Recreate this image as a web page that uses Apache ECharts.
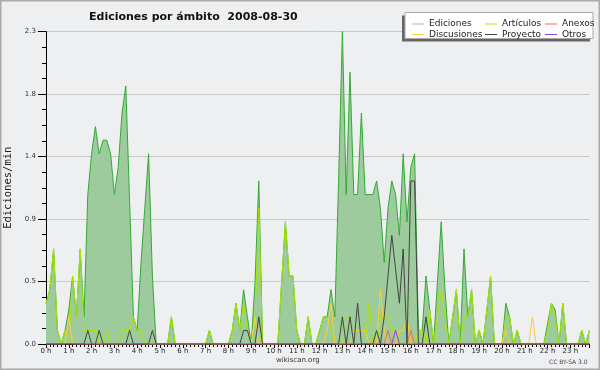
<!DOCTYPE html>
<html>
<head>
<meta charset="utf-8">
<script src="https://cdn.jsdelivr.net/npm/echarts@6/dist/echarts.min.js"></script>
<style>
html,body{margin:0;padding:0;background:#eeeff1;}
#chart{width:600px;height:370px;}
</style>
</head>
<body>
<div id="chart"></div>
<script>
// 10-minute bins, 144 per day (6 per hour)
const hourLabels = ['0 h','1 h','2 h','3 h','4 h','5 h','6 h','7 h','8 h','9 h','10 h','11 h','12 h','13 h','14 h','15 h','16 h','17 h','18 h','19 h','20 h','21 h','22 h','23 h'];
const yTicks = [0, 0.46, 0.92, 1.38, 1.84, 2.3];

const ediciones = [
  0.3,0.4,0.7,0.1,0,0.1,
  0.25,0.5,0.2,0.7,0.2,1.1,
  1.4,1.6,1.4,1.5,1.5,1.4,
  1.1,1.3,1.7,1.9,1.05,0.2,
  0.1,0.6,1.0,1.4,0.5,0,
  0,0,0,0.2,0,0,
  0,0,0,0,0,0,
  0,0.1,0,0,0,0,
  0,0.1,0.3,0.1,0.4,0.2,
  0,0.45,1.2,0,0,0,
  0,0,0.45,0.9,0.5,0.5,
  0.1,0,0,0.2,0,0,
  0.1,0.2,0.2,0.4,0.2,1.2,
  2.3,1.1,2.0,1.1,1.1,1.7,
  1.1,1.1,1.1,1.2,1.0,0.6,
  1.0,1.2,1.1,0.8,1.4,0.9,
  1.3,1.4,0.1,0.1,0.5,0.25,
  0,0.45,0.9,0.4,0,0.2,
  0.4,0,0.7,0.2,0.4,0,
  0.1,0,0.25,0.5,0,0,
  0,0.3,0.2,0,0.1,0,
  0,0,0,0,0,0,
  0.15,0.3,0.25,0,0.3,0,
  0,0,0,0.1,0,0.1
];
const articulos = [
  0.3,0.4,0.7,0.1,0,0.1,
  0,0.5,0.2,0.7,0.1,0.1,
  0.1,0.1,0,0,0.1,0,
  0,0,0.1,0.1,0.1,0.2,
  0.1,0.1,0,0,0,0,
  0,0,0,0.2,0,0,
  0,0,0,0,0,0,
  0,0.1,0,0,0,0,
  0,0.1,0.3,0.1,0.3,0.1,
  0,0.2,1.0,0,0,0,
  0,0,0.45,0.9,0.5,0.5,
  0.1,0,0,0.2,0,0,
  0.1,0.2,0.2,0.1,0,0,
  0,0.2,0.2,0,0,0,
  0,0.3,0,0,0.2,0.2,
  0.2,0.1,0.1,0,0,0,
  0,0,0.1,0.1,0,0.25,
  0,0.2,0.4,0.2,0,0.2,
  0.4,0,0.2,0.2,0.4,0,
  0.1,0,0.25,0.5,0,0,
  0,0.2,0.2,0,0.1,0,
  0,0,0,0,0,0,
  0.1,0.3,0.2,0,0.3,0,
  0,0,0,0.1,0,0.1
];
const anexos = [
  0,0,0,0,0,0, 0,0,0,0,0,0, 0,0,0,0,0,0, 0,0,0,0,0,0,
  0,0,0,0,0,0, 0,0,0,0,0,0, 0,0,0,0,0,0, 0,0,0,0,0,0,
  0,0,0,0,0,0, 0,0,0,0,0,0, 0,0,0,0,0,0, 0,0,0,0,0,0,
  0,0,0,0,0,0, 0,0,0,0,0,0, 0,0,0,0,0,0, 0.1,0,0,0,0,0,
  0.1,0,0,0,0,0, 0,0,0,0,0,0, 0,0,0,0,0,0, 0,0,0,0,0,0,
  0,0,0,0,0,0, 0,0,0,0,0,0, 0,0,0,0,0,0, 0,0,0,0,0,0
];
const discusiones = [
  0,0,0,0,0,0, 0.2,0,0,0,0,0, 0,0,0,0,0,0, 0,0,0,0,0,0,
  0,0,0,0,0,0, 0,0,0,0,0,0, 0,0,0,0,0,0, 0,0,0,0,0,0,
  0,0,0,0,0,0, 0,0.2,0,0,0,0, 0,0,0,0,0,0, 0,0,0,0,0,0,
  0,0,0.1,0.3,0,0, 0,0,0,0.1,0.1,0.1, 0.1,0,0,0,0.4,0.1, 0,0,0,0.1,0.1,0.2,
  0,0,0,0,0,0, 0,0,0,0,0,0, 0,0,0,0,0,0, 0,0,0,0,0,0,
  0,0.1,0,0,0,0, 0,0,0.2,0,0,0, 0,0,0,0,0,0, 0,0,0,0,0,0
];
const proyecto = [
  0,0,0,0,0,0, 0,0,0,0,0,0.1, 0,0,0.1,0,0,0, 0,0,0,0,0.1,0,
  0,0,0,0,0.1,0, 0,0,0,0,0,0, 0,0,0,0,0,0, 0,0,0,0,0,0,
  0,0,0,0,0.1,0.1, 0,0,0.2,0,0,0, 0,0,0,0,0,0, 0,0,0,0,0,0,
  0,0,0,0,0,0, 0.2,0,0.2,0,0.3,0, 0,0,0,0.1,0,0.2, 0.5,0.8,0.55,0.3,0.7,0,
  1.2,1.2,0,0,0.2,0, 0,0,0,0,0,0, 0,0,0,0,0,0, 0,0,0,0,0,0,
  0,0,0,0,0,0, 0,0,0,0,0,0, 0,0,0,0,0,0, 0,0,0,0,0,0
];
const otros = [
  0,0,0,0,0,0, 0,0,0,0,0,0, 0,0,0,0,0,0, 0,0,0,0,0,0,
  0,0,0,0,0,0, 0,0,0,0,0,0, 0,0,0,0,0,0, 0,0,0,0,0,0,
  0,0,0,0,0,0, 0,0,0,0,0,0, 0,0,0,0,0,0, 0,0,0,0,0,0,
  0,0,0,0,0,0, 0,0,0,0,0,0, 0,0,0,0,0,0, 0,0,0.1,0,0,0,
  0,0,0,0,0,0, 0,0,0,0,0,0, 0,0,0,0,0,0, 0,0,0,0,0,0,
  0,0,0,0,0,0, 0,0,0,0,0,0, 0,0,0,0,0,0, 0,0,0,0,0,0
];

const toPairs = arr => arr.map((v, i) => [i, v]);
const chart = echarts.init(document.getElementById('chart'), null, {renderer: 'canvas'});

function lineSeries(name, data, color, z) {
  return {
    name: name, type: 'line', data: toPairs(data), showSymbol: false, symbol: 'none',
    lineStyle: {color: color, width: 1}, itemStyle: {color: color}, z: z,
    emphasis: {disabled: true}, animation: false
  };
}

const legendBase = {
  orient: 'vertical', top: 14, itemWidth: 12, itemHeight: 1, itemGap: 0.5, icon: 'rect',
  textStyle: {fontFamily: 'DejaVu Sans', fontSize: 9, color: '#222', lineHeight: 10},
  selectedMode: false, z: 20
};

chart.setOption({
  backgroundColor: '#eeeff1',
  animation: false,
  title: {
    text: 'Ediciones por ámbito  2008-08-30', left: 84, top: 7,
    textStyle: {fontFamily: 'DejaVu Sans', fontWeight: 'bold', fontSize: 11, color: '#111'}
  },
  legend: [
    Object.assign({}, legendBase, {left: 407, data: ['Ediciones', 'Discusiones']}),
    Object.assign({}, legendBase, {left: 480, data: ['Artículos', 'Proyecto']}),
    Object.assign({}, legendBase, {left: 540, data: ['Anexos', 'Otros']})
  ],
  graphic: [
    {type: 'rect', shape: {x: 402, y: 15.5, width: 188, height: 26}, style: {fill: '#666'}, z: 10},
    {type: 'rect', shape: {x: 405, y: 12.5, width: 188, height: 26}, style: {fill: '#fff', stroke: '#aaa', lineWidth: 1}, z: 11},
    {type: 'text', left: 276, top: 357, style: {text: 'wikiscan.org', fontFamily: 'DejaVu Sans', fontSize: 7, fill: '#333'}},
    {type: 'text', left: 549, top: 359, style: {text: 'CC BY-SA 3.0', fontFamily: 'DejaVu Sans', fontSize: 6, fill: '#444'}},
    {type: 'rect', shape: {x: 0.5, y: 0.5, width: 599, height: 369}, style: {fill: 'none', stroke: '#aaa', lineWidth: 2}, z: 30}
  ],
  grid: {left: 46, right: 10.6, top: 31.5, bottom: 26, show: false, containLabel: false, outerBoundsMode: 'none'},
  xAxis: {
    type: 'value', min: 0, max: 143, interval: 6,
    axisLine: {show: true, lineStyle: {color: '#000', width: 1}},
    axisTick: {show: true, length: 4, lineStyle: {color: '#000'}},
    minorTick: {show: true, splitNumber: 6, length: 3, lineStyle: {color: '#000'}},
    splitLine: {show: false},
    axisLabel: {
      margin: 4, fontFamily: 'DejaVu Sans', fontSize: 7, color: '#222',
      formatter: v => (v % 6 === 0 ? hourLabels[v / 6] : '')
    }
  },
  yAxis: {
    type: 'value', min: 0, max: 2.3, interval: 0.46,
    name: 'Ediciones/min', nameLocation: 'middle', nameGap: 31,
    nameTextStyle: {fontFamily: 'DejaVu Sans Mono', fontSize: 10.5, color: '#222'},
    axisLine: {show: true, lineStyle: {color: '#000', width: 1}},
    axisTick: {show: true, length: 8, lineStyle: {color: '#000'}},
    minorTick: {show: true, splitNumber: 4, length: 4, lineStyle: {color: '#000'}},
    splitLine: {show: true, lineStyle: {color: '#c8c8c8', width: 1}},
    axisLabel: {
      margin: 10, fontFamily: 'DejaVu Sans', fontSize: 7, color: '#333',
      formatter: v => v.toFixed(1)
    }
  },
  series: [
    Object.assign(lineSeries('Ediciones', ediciones, '#88cc88', 2), {
      lineStyle: {color: '#33aa33', width: 1},
      areaStyle: {color: '#9dcb9d', opacity: 1}
    }),
    lineSeries('Artículos', articulos, '#a8e600', 3),
    lineSeries('Anexos', anexos, '#ff6633', 4),
    lineSeries('Discusiones', discusiones, '#ffcc33', 3),
    lineSeries('Proyecto', proyecto, '#444444', 5),
    lineSeries('Otros', otros, '#8844ee', 6)
  ]
});
</script>
</body>
</html>
